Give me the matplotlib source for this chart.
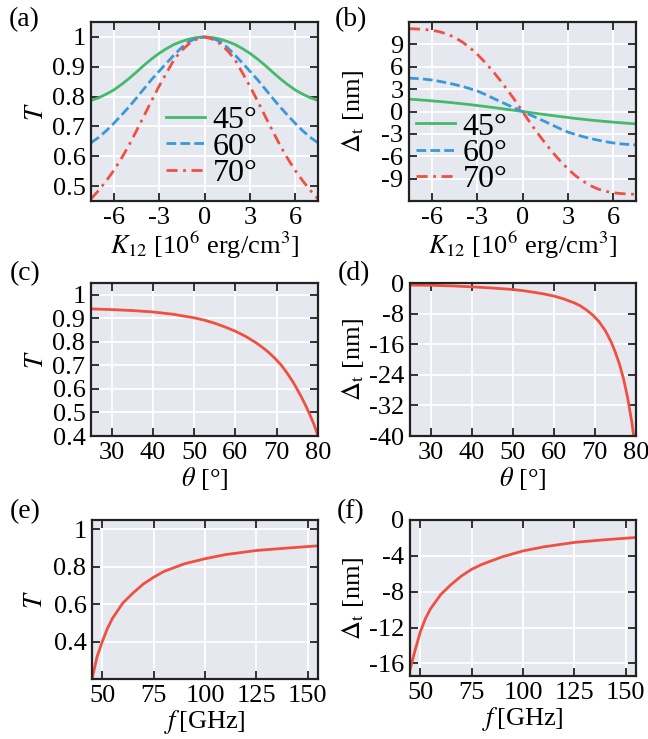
import matplotlib
matplotlib.use('Agg')
import matplotlib.pyplot as plt
import numpy as np

plt.rcParams['font.family'] = 'serif'
plt.rcParams['font.serif'] = ['Liberation Serif', 'DejaVu Serif']
plt.rcParams['mathtext.fontset'] = 'stix'
plt.rcParams['axes.unicode_minus'] = False

# ---- data ----
K = [-7.5, -7, -6.5, -6, -5.5, -5, -4.5, -4, -3.5, -3, -2.5, -2, -1.5, -1, -0.5,
     0, 0.5, 1, 1.5, 2, 2.5, 3, 3.5, 4, 4.5, 5, 5.5, 6, 6.5, 7, 7.5]

T45 = [0.787, 0.796, 0.808, 0.822, 0.840, 0.860, 0.882, 0.905, 0.926, 0.945, 0.961,
       0.975, 0.985, 0.993, 0.998, 1.0, 0.998, 0.993, 0.985, 0.975, 0.961, 0.945,
       0.926, 0.905, 0.882, 0.860, 0.840, 0.822, 0.808, 0.796, 0.787]
T60 = [0.645, 0.663, 0.685, 0.710, 0.737, 0.765, 0.795, 0.826, 0.857, 0.885, 0.913,
       0.940, 0.965, 0.985, 0.996, 1.0, 0.996, 0.985, 0.965, 0.940, 0.913, 0.885,
       0.857, 0.826, 0.795, 0.765, 0.737, 0.710, 0.685, 0.663, 0.645]
T70 = [0.457, 0.485, 0.517, 0.552, 0.592, 0.636, 0.685, 0.735, 0.786, 0.835, 0.880,
       0.925, 0.955, 0.978, 0.993, 1.0, 0.993, 0.978, 0.955, 0.925, 0.880, 0.835,
       0.786, 0.735, 0.685, 0.636, 0.592, 0.552, 0.517, 0.485, 0.457]

D45 = [1.66, 1.59, 1.51, 1.43, 1.34, 1.25, 1.15, 1.04, 0.93, 0.80, 0.68, 0.55, 0.42,
       0.28, 0.14, 0.0, -0.14, -0.28, -0.42, -0.55, -0.68, -0.80, -0.93, -1.04,
       -1.15, -1.25, -1.34, -1.43, -1.51, -1.59, -1.66]
D60 = [4.48, 4.42, 4.34, 4.22, 4.05, 3.85, 3.63, 3.37, 3.08, 2.76, 2.32, 1.84, 1.36,
       0.90, 0.45, 0.0, -0.45, -0.90, -1.36, -1.84, -2.32, -2.76, -3.08, -3.37,
       -3.63, -3.85, -4.05, -4.22, -4.34, -4.42, -4.48]
D70 = [11.1, 11.07, 11.0, 10.9, 10.7, 10.4, 9.95, 9.35, 8.6, 7.7, 6.65, 5.5, 4.25,
       2.9, 1.5, 0.0, -1.5, -2.9, -4.25, -5.5, -6.65, -7.7, -8.6, -9.35, -9.95,
       -10.4, -10.7, -10.9, -11.0, -11.07, -11.1]

theta = [25, 30, 35, 40, 45, 50, 52.5, 55, 57.5, 60, 62.5, 65, 66.5, 68, 69.5, 71,
         72.5, 74, 75, 76, 77, 78, 79, 79.5, 80]
T_theta = [0.940, 0.937, 0.933, 0.927, 0.917, 0.902, 0.892, 0.879, 0.863, 0.845,
           0.823, 0.796, 0.777, 0.756, 0.731, 0.703, 0.668, 0.628, 0.597, 0.565,
           0.530, 0.492, 0.450, 0.426, 0.400]
D_theta = [-0.55, -0.6, -0.75, -1.0, -1.3, -1.7, -2.0, -2.4, -2.85, -3.4, -4.2, -5.2,
           -6.0, -7.1, -8.4, -10.1, -12.4, -15.5, -18.2, -21.3, -25.2, -30.2, -36.5,
           -40.5, -45.0]

freq = [45, 47.5, 50, 52.5, 55, 60, 65, 70, 75, 80, 90, 100, 110, 125, 140, 155]
T_f = [0.2, 0.32, 0.4, 0.47, 0.525, 0.606, 0.66, 0.708, 0.744, 0.775, 0.816, 0.843,
       0.865, 0.887, 0.9, 0.912]
D_f = [-16.7, -14.5, -12.5, -11.0, -9.9, -8.3, -7.2, -6.25, -5.5, -4.95, -4.1, -3.45,
       -3.0, -2.5, -2.2, -1.95]

angles = ['45°', '60°', '70°']

green = '#46b96b'
blue = '#3a98d8'
red = '#ef5040'
bg = '#e6e8f0'

W, H = 648, 739
fig = plt.figure(figsize=(W / 100, H / 100), dpi=100)


def make_ax(l, r, t, b, ylab_x):
    ax = fig.add_axes([l / W, 1 - b / H, (r - l) / W, (b - t) / H])
    ax.set_facecolor(bg)
    ax.grid(True, color='white', lw=1.3)
    ax.set_axisbelow(True)
    for s in ax.spines.values():
        s.set_linewidth(1.6)
        s.set_color('#222222')
    ax.tick_params(direction='in', top=True, right=True, length=6, width=1.3,
                   labelsize=19, color='#222222', pad=4)
    ax.yaxis.set_label_coords((ylab_x - l) / (r - l), 0.5)
    return ax


tfs = 19
dash = (0, (3.5, 1.5))
dashdot = (0, (4, 2, 1, 2))
leg_kw = dict(loc='center', frameon=False, fontsize=23, handlelength=1.2,
              handletextpad=0.25, labelspacing=-0.1, borderpad=0)

# (a)
ax = make_ax(91, 318, 22, 201, 37)
ax.plot(K, T45, color=green, lw=2, label=angles[0])
ax.plot(K, T60, color=blue, lw=2, ls=dash, label=angles[1])
ax.plot(K, T70, color=red, lw=2, ls=dashdot, label=angles[2])
ax.set_xlim(-7.5, 7.5)
ax.set_ylim(0.45, 1.05)
ax.set_xticks([-6, -3, 0, 3, 6])
ax.set_yticks([0.5, 0.6, 0.7, 0.8, 0.9, 1.0])
ax.set_yticklabels(['0.5', '0.6', '0.7', '0.8', '0.9', '1'])
ax.set_xlabel(r'$K_{12}$ [10$^6$ erg/cm$^3$]', fontsize=tfs, labelpad=1)
ax.set_ylabel(r'$T$', fontsize=tfs, va='center')
ax.legend(bbox_to_anchor=(0.533, 0.302), **leg_kw)

# (b)
ax = make_ax(409, 636, 22, 201, 353)
ax.plot(K, D45, color=green, lw=2, label=angles[0])
ax.plot(K, D60, color=blue, lw=2, ls=dash, label=angles[1])
ax.plot(K, D70, color=red, lw=2, ls=dashdot, label=angles[2])
ax.set_xlim(-7.5, 7.5)
ax.set_ylim(-12, 12)
ax.set_xticks([-6, -3, 0, 3, 6])
ax.set_yticks([-9, -6, -3, 0, 3, 6, 9])
ax.set_xlabel(r'$K_{12}$ [10$^6$ erg/cm$^3$]', fontsize=tfs, labelpad=1)
ax.set_ylabel(r'$\Delta_{\rm t}$ [nm]', fontsize=tfs, va='center')
ax.legend(bbox_to_anchor=(0.233, 0.268), **leg_kw)

# (c)
ax = make_ax(91, 318, 283, 436, 37)
ax.plot(theta, T_theta, color=red, lw=2)
ax.set_xlim(25, 80)
ax.set_ylim(0.4, 1.05)
ax.set_xticks([30, 40, 50, 60, 70, 80])
ax.set_yticks([0.4, 0.5, 0.6, 0.7, 0.8, 0.9, 1.0])
ax.set_yticklabels(['0.4', '0.5', '0.6', '0.7', '0.8', '0.9', '1'])
ax.set_xlabel(r'$\theta$ [°]', fontsize=tfs, labelpad=1)
ax.set_ylabel(r'$T$', fontsize=tfs, va='center')

# (d)
ax = make_ax(410, 636, 283, 436, 353)
ax.plot(theta, D_theta, color=red, lw=2)
ax.set_xlim(25, 80)
ax.set_ylim(-40, 0)
ax.set_xticks([30, 40, 50, 60, 70, 80])
ax.set_yticks([-40, -32, -24, -16, -8, 0])
ax.set_xlabel(r'$\theta$ [°]', fontsize=tfs, labelpad=1)
ax.set_ylabel(r'$\Delta_{\rm t}$ [nm]', fontsize=tfs, va='center')

# (e)
ax = make_ax(92, 318, 520, 679, 36)
ax.plot(freq, T_f, color=red, lw=2)
ax.set_xlim(45, 155)
ax.set_ylim(0.2, 1.05)
ax.set_xticks([50, 75, 100, 125, 150])
ax.set_yticks([0.4, 0.6, 0.8, 1.0])
ax.set_yticklabels(['0.4', '0.6', '0.8', '1'])
ax.set_xlabel(r'$f\,$[GHz]', fontsize=tfs, labelpad=1)
ax.set_ylabel(r'$T$', fontsize=tfs, va='center')

# (f)
ax = make_ax(410, 636, 520, 676, 353)
ax.plot(freq, D_f, color=red, lw=2)
ax.set_xlim(45, 155)
ax.set_ylim(-17.4, 0)
ax.set_xticks([50, 75, 100, 125, 150])
ax.set_yticks([-16, -12, -8, -4, 0])
ax.set_xlabel(r'$f\,$[GHz]', fontsize=tfs, labelpad=1)
ax.set_ylabel(r'$\Delta_{\rm t}$ [nm]', fontsize=tfs, va='center')

# panel letters
for txt, x, y in [('(a)', 24, 20), ('(b)', 351, 20), ('(c)', 25, 274),
                  ('(d)', 354, 274), ('(e)', 25, 512), ('(f)', 351, 512)]:
    fig.text(x / W, 1 - y / H, txt, fontsize=20, ha='center', va='center')

fig.savefig('out.png', dpi=100)
